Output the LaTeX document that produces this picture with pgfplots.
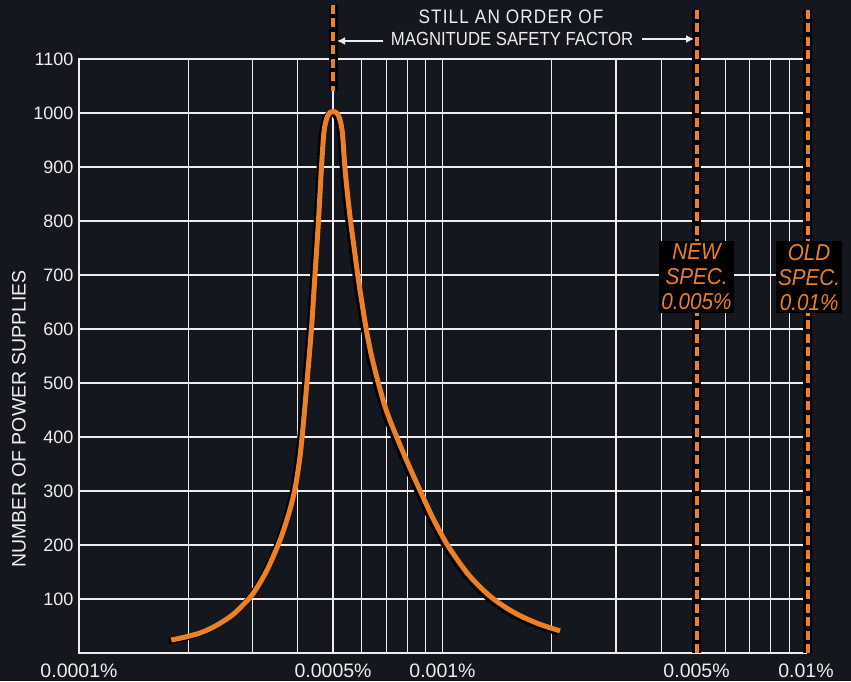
\documentclass[border=0pt]{standalone}
\usepackage{fontspec}
\setmainfont{Liberation Sans}
\newfontfamily\condfont{Liberation Sans}[FakeStretch=0.88]
\newfontfamily\condfontB{Liberation Sans}[FakeStretch=0.88, LetterSpace=6]
\newfontfamily\specfont{Liberation Sans}[FakeStretch=0.9]
\usepackage{pgfplots}
\usepackage{pgfplotstable}
\pgfplotsset{compat=1.18}
\usetikzlibrary{arrows.meta}
\definecolor{bg}{RGB}{21,23,30}
\definecolor{grd}{RGB}{238,238,238}
\definecolor{org}{RGB}{236,128,38}

\pgfplotstableread{
x y
0.0001794 24
0.0001974 30
0.0002172 38
0.0002388 51
0.0002627 69
0.0002798 86
0.0002981 106
0.0003141 129
0.0003288 153
0.0003420 178
0.0003579 210
0.0003723 244
0.0003846 277
0.0003949 312
0.0004052 362
0.0004130 415
0.0004237 500
0.0004360 600
0.0004459 700
0.0004559 800
0.0004647 900
0.0004721 965
0.0004813 992
0.0004906 1001
0.0005000 1003
0.0005098 1001
0.0005199 992
0.0005301 965
0.0005389 900
0.0005478 850
0.0005586 800
0.0005715 750
0.0005847 700
0.0006000 650
0.0006169 600
0.0006381 550
0.0006663 500
0.0007000 450
0.0007483 400
0.0008047 350
0.0008689 300
0.0009409 250
0.001032 200
0.001163 150
0.001270 122
0.001370 102
0.001487 85
0.001635 69
0.001855 53
0.002106 41
}\curvedata

\begin{document}
\begin{tikzpicture}
\fill[bg] (-79pt,-28pt) rectangle (772pt,653pt);
\useasboundingbox (-79pt,-28pt) rectangle (772pt,653pt);
\begin{axis}[
  at={(0,0)}, anchor=south west,
  scale only axis, width=727pt, height=594pt,
  xmode=log, xmin=1e-4, xmax=1e-2, ymin=0, ymax=1100,
  clip=false,
  axis line style={grd, line width=1.3pt},
  xtick={1e-4,2e-4,3e-4,4e-4,5e-4,6e-4,7e-4,8e-4,9e-4,1e-3,2e-3,3e-3,4e-3,5e-3,6e-3,7e-3,8e-3,9e-3,1e-2},
  xticklabels={0.0001\%,,,,0.0005\%,,,,,0.001\%,,,,0.005\%,,,,,0.01\%},
  ytick={100,200,300,400,500,600,700,800,900,1000,1100},
  xmajorgrids, ymajorgrids,
  major grid style={grd, line width=1.2pt},
  major tick length=0pt, minor tick length=0pt,
  xticklabel style={font=\fontsize{19.5}{20}\selectfont, text=grd, yshift=-7pt},
  yticklabel style={font=\fontsize{18}{18}\selectfont, text=grd, xshift=-2pt},
  /pgf/number format/assume math mode=true,
  /pgf/number format/1000 sep={},
  ylabel={NUMBER OF POWER SUPPLIES},
  every axis y label/.style={at={(rel axis cs:-0.0825,0.394)}, rotate=90, anchor=center, text=grd, font=\fontsize{19.5}{20}\selectfont},
]
\addplot[black, line width=5pt, smooth, tension=0.5, xshift=-2.5pt, yshift=-2pt] table[x=x,y=y] {\curvedata};
\addplot[org, line width=5pt, smooth, tension=0.5] table[x=x,y=y] {\curvedata};

\draw[black, line width=9pt] (axis cs:0.0005,1200) -- (axis cs:0.0005,1040);
\draw[org, line width=4pt, dash pattern=on 9pt off 4.5pt] (axis cs:0.0005,1200) -- (axis cs:0.0005,1040);
\draw[black, line width=9pt] (axis cs:0.005,1191) -- (axis cs:0.005,0);
\draw[org, line width=4pt, dash pattern=on 9pt off 4.5pt] (axis cs:0.005,1191) -- (axis cs:0.005,0);
\draw[black, line width=9pt] (axis cs:0.0101,1191) -- (axis cs:0.0101,0);
\draw[org, line width=4pt, dash pattern=on 9pt off 4.5pt] (axis cs:0.0101,1191) -- (axis cs:0.0101,0);

\node[fill=black, text=org, align=center, inner xsep=2pt, inner ysep=3pt, font=\specfont\itshape\fontsize{23}{25}\selectfont] at (axis cs:0.005,696) {NEW\\SPEC.\\0.005\%};
\node[fill=black, text=org, align=center, inner xsep=2pt, inner ysep=3pt, font=\specfont\itshape\fontsize{23}{25}\selectfont] at (axis cs:0.0102,696) {OLD\\SPEC.\\0.01\%};
\end{axis}
\node[text=grd, font=\condfontB\fontsize{19.5}{21}\selectfont] at (432pt,636pt) {STILL AN ORDER OF};
\node[text=grd, font=\condfont\fontsize{19}{21}\selectfont] at (433pt,614pt) {MAGNITUDE SAFETY FACTOR};
\draw[grd, line width=1.8pt, -{Latex[length=8pt,width=8pt]}] (304pt,612pt) -- (258pt,612pt);
\draw[grd, line width=1.8pt, -{Latex[length=8pt,width=8pt]}] (563pt,614pt) -- (615pt,614pt);
\end{tikzpicture}
\end{document}
